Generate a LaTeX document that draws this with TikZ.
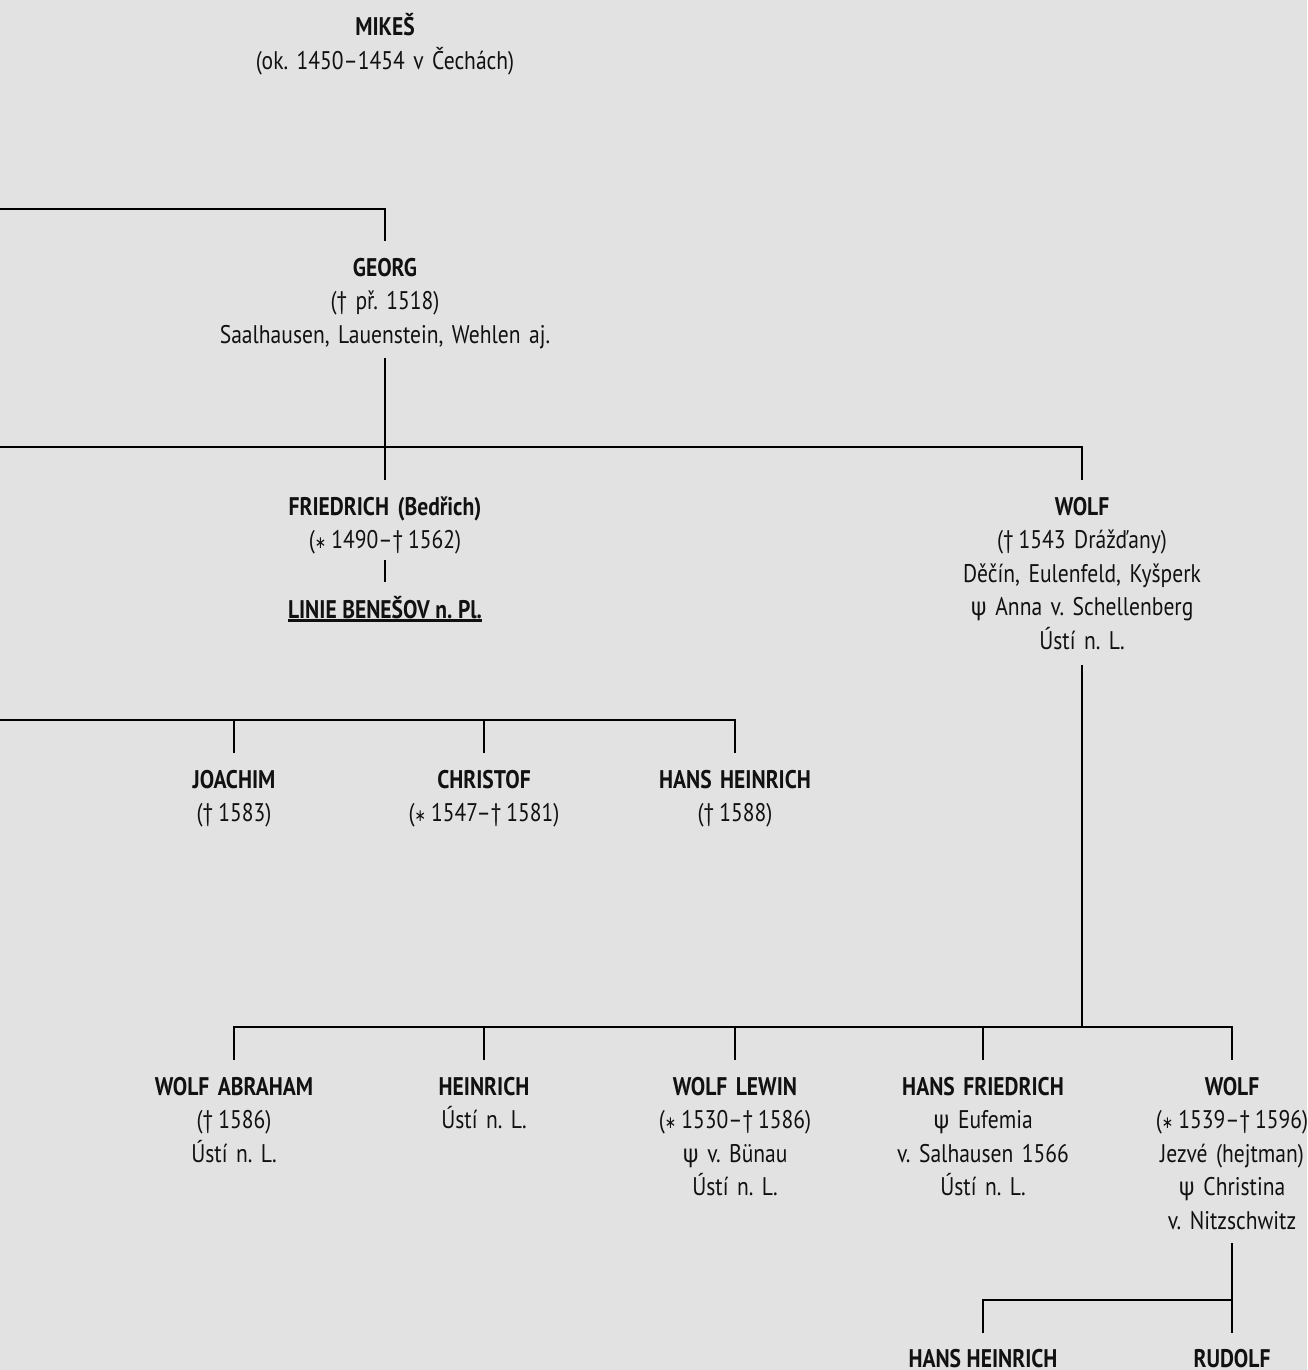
\documentclass[tikz,border=0pt]{standalone}
\usepackage{fontspec}
\setmainfont{PT Sans}[FakeStretch=0.845]
\newfontfamily\psifont{Fira Sans}[FakeStretch=0.845]
\newfontfamily\symfont{DejaVu Sans}[FakeStretch=0.8]
\definecolor{bg}{HTML}{E2E2E2}
\definecolor{ink}{HTML}{111111}
\newcommand\wedpsi{{\psifont ψ}}
\newcommand\birthmk{{\symfont\fontsize{17}{17}\selectfont ∗}}
\newcommand\tsp{\hspace{0.2em}}
\newcommand\treefont{\fontsize{25.5}{33.6}\selectfont\frenchspacing\spaceskip=5.6pt plus 1pt minus 0.5pt\relax}
\frenchspacing
\begin{document}
\begin{tikzpicture}[x=1pt,y=-1pt,
  tree/.style={line width=2.9pt, draw=black},
  person/.style={anchor=base, align=center, text width=500pt, inner sep=0pt, text=ink,
    font=\treefont},
  single/.style={anchor=base, inner sep=0pt, text=ink, font=\treefont}]
\fill[bg] (0,0) rectangle (1307,1370);
\useasboundingbox (0,0) rectangle (1307,1370);

% nodes
\node[person] (mikes) at (385,36) {\textbf{MIKEŠ}\\(ok. 1450–1454 v Čechách)};
\node[person] (georg) at (385,276) {\textbf{GEORG}\\(† př. 1518)\\Saalhausen, Lauenstein, Wehlen aj.};
\node[person] (friedrich) at (385,515) {\textbf{FRIEDRICH (Bedřich)}\\(\birthmk\tsp 1490–†\tsp 1562)};
\node[single] (linie) at (385,618) {\textbf{LINIE BENEŠOV n. Pl.}};
\node[person] (wolfA) at (1082,515) {\textbf{WOLF}\\(†\tsp 1543 Drážďany)\\Děčín, Eulenfeld, Kyšperk\\\wedpsi\ Anna v. Schellenberg\\Ústí n. L.};
\node[person] (joachim) at (234,788) {\textbf{JOACHIM}\\(†\tsp 1583)};
\node[person] (christof) at (484,788) {\textbf{CHRISTOF}\\(\birthmk\tsp 1547–†\tsp 1581)};
\node[person] (hhA) at (735,788) {\textbf{HANS HEINRICH}\\(†\tsp 1588)};
\node[person] (wabr) at (234,1095) {\textbf{WOLF ABRAHAM}\\(†\tsp 1586)\\Ústí n. L.};
\node[person] (heinrich) at (484,1095) {\textbf{HEINRICH}\\Ústí n. L.};
\node[person] (wlewin) at (735,1095) {\textbf{WOLF LEWIN}\\(\birthmk\tsp 1530–†\tsp 1586)\\\wedpsi\ v. Bünau\\Ústí n. L.};
\node[person] (hfried) at (983,1095) {\textbf{HANS FRIEDRICH}\\\wedpsi\ Eufemia\\v. Salhausen 1566\\Ústí n. L.};
\node[person] (wolfB) at (1232,1095) {\textbf{WOLF}\\(\birthmk\tsp 1539–†\tsp 1596)\\Jezvé (hejtman)\\\wedpsi\ Christina\\v. Nitzschwitz};
\node[single] (hhB) at (983,1367) {\textbf{HANS HEINRICH}};
\node[single] (rudolf) at (1232,1367) {\textbf{RUDOLF}};

% underline
\draw[line width=2.2pt, ink] ([yshift=-2.5pt]linie.base west) -- ([yshift=-2.5pt]linie.base east);

% connectors
\coordinate (e1) at (0,209);
\coordinate (e2) at (0,447);
\coordinate (e3) at (0,720);
\draw[tree] (e1) -| ([yshift=35pt]georg.base);
\draw[tree] ([yshift=-82pt]georg.base) -- ([yshift=35pt]friedrich.base);
\draw[tree] (e2) -| ([yshift=35pt]wolfA.base);
\draw[tree] ([yshift=-45pt]friedrich.base) -- ([yshift=36pt]linie.base);

\draw[tree] (e3) -| ([yshift=35pt]hhA.base);
\draw[tree] ([yshift=35pt]joachim.base) -- (joachim.base |- e3);
\draw[tree] ([yshift=35pt]christof.base) -- (christof.base |- e3);

\draw[tree] ([yshift=35pt]wabr.base) -- ++(0,-33) coordinate (bl) -| ([yshift=35pt]wolfB.base);
\draw[tree] ([yshift=35pt]heinrich.base) -- (heinrich.base |- bl);
\draw[tree] ([yshift=35pt]wlewin.base) -- (wlewin.base |- bl);
\draw[tree] ([yshift=35pt]hfried.base) -- (hfried.base |- bl);
\draw[tree] ([yshift=-150pt]wolfA.base) -- (wolfA.base |- bl);

\draw[tree] ([yshift=-148pt]wolfB.base) -- ([yshift=34pt]rudolf.base);
\draw[tree] ([yshift=34pt]hhB.base) |- ([yshift=67pt]rudolf.base);
\end{tikzpicture}
\end{document}
